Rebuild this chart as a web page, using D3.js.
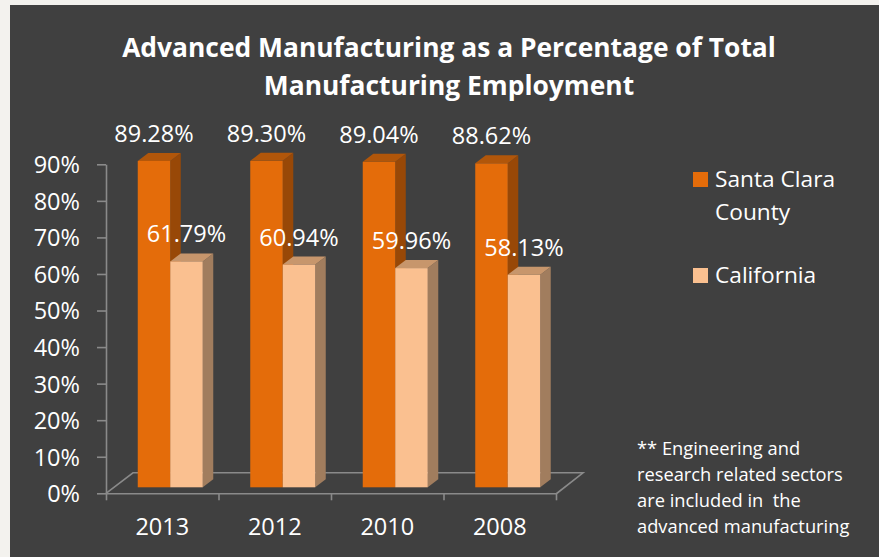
<!DOCTYPE html>
<html>
<head>
<meta charset="utf-8">
<script src="https://cdn.jsdelivr.net/npm/d3@7"></script>
<style>
  body { margin: 0; background: #f3f2ee; }
  text { font-family: "Open Sans", sans-serif; fill: #ffffff; }
</style>
</head>
<body>
<div id="chart"></div>
<script>
// datos
const years = ["2013", "2012", "2010", "2008"];
const seriesNames = ["Santa Clara County", "California"];
const santaClara = [0.8928, 0.8930, 0.8904, 0.8862];
const california = [0.6179, 0.6094, 0.5996, 0.5813];
const yTicks = [0, 0.1, 0.2, 0.3, 0.4, 0.5, 0.6, 0.7, 0.8, 0.9];
const titleLines = ["Advanced Manufacturing as a Percentage of Total", "Manufacturing Employment"];
const noteLines = ["** Engineering and", "research related sectors", "are included in  the", "advanced manufacturing"];

const W = 879, H = 557;
const FS = 23.5;
const colors = {
  front: ["#e46c0a", "#fac090"],
  side: ["#984807", "#a17d5e"],
  top: ["#b1560a", "#c7966c"]
};

const svg = d3.select("#chart").append("svg").attr("width", W).attr("height", H);

svg.append("rect").attr("width", W).attr("height", H).attr("fill", "#f3f2ee");
svg.append("rect").attr("x", 10).attr("y", 5).attr("width", W - 10).attr("height", H - 5).attr("fill", "#404040");

// escalas
const x = d3.scaleBand().domain(years).range([106, 556]);
const y = d3.scaleLinear().domain([0, 0.9]).range([493.3, 164.3]);
const inner = d3.scaleBand().domain(seriesNames).range([0, 65]);
const groupOff = (x.bandwidth() - 65) / 2;

// profundidad 3D
const floorD = { dx: 27, dy: -20.5 };
const barOff = { dx: 8, dy: -6 };
const barD = { dx: 10.5, dy: -8 };

// piso
const floor = svg.append("g").attr("stroke", "#8a8a8a").attr("stroke-width", 1.6).attr("fill", "none");
const x0 = x.range()[0], x1 = x.range()[1], y0 = y(0);
floor.append("path").attr("d", d3.line()([
  [x0, y0], [x0 + floorD.dx, y0 + floorD.dy], [x1 + floorD.dx, y0 + floorD.dy], [x1, y0 + 0.7]
]));

// eje Y
svg.append("g")
  .attr("transform", "translate(" + x0 + ",0)")
  .call(d3.axisLeft(y).tickValues(yTicks).tickFormat(d3.format(".0%")).tickSizeInner(9).tickSizeOuter(0).tickPadding(17))
  .call(g => g.selectAll("path, line").attr("stroke", "#8a8a8a").attr("stroke-width", 1.6))
  .call(g => g.selectAll("text").attr("font-size", FS).attr("font-family", "Open Sans").attr("fill", "#fff").attr("dy", "0.36em"));

// eje X
const xEdges = d3.scaleLinear().domain([0, years.length]).range([x0, x1]);
svg.append("g")
  .attr("transform", "translate(0," + y0 + ")")
  .call(d3.axisBottom(xEdges).tickValues(d3.range(years.length + 1)).tickFormat("").tickSizeInner(7).tickSizeOuter(0))
  .call(g => g.selectAll("path, line").attr("stroke", "#8a8a8a").attr("stroke-width", 1.6));
svg.append("g")
  .attr("transform", "translate(0," + y0 + ")")
  .call(d3.axisBottom(x).tickSize(0))
  .call(g => g.select(".domain").remove())
  .call(g => g.selectAll("text").attr("font-size", FS).attr("font-family", "Open Sans").attr("fill", "#fff").attr("y", 42).attr("dy", 0));

// barras
const rows = years.map((yr, i) => ({ year: yr, vals: [santaClara[i], california[i]] }));
const bars = svg.append("g");
rows.forEach(r => {
  r.vals.forEach((v, s) => {
    const bx0 = x(r.year) + groupOff + inner(seriesNames[s]) + barOff.dx;
    const bx1 = bx0 + inner.bandwidth();
    const by0 = y(0) + barOff.dy;
    const by1 = y(v) + barOff.dy;
    const g = bars.append("g");
    // lado
    g.append("path").attr("fill", colors.side[s])
      .attr("d", d3.line()([[bx1, by0], [bx1 + barD.dx, by0 + barD.dy], [bx1 + barD.dx, by1 + barD.dy], [bx1, by1]]) + "Z");
    // arriba
    g.append("path").attr("fill", colors.top[s])
      .attr("d", d3.line()([[bx0, by1], [bx0 + barD.dx, by1 + barD.dy], [bx1 + barD.dx, by1 + barD.dy], [bx1, by1]]) + "Z");
    // frente
    g.append("rect").attr("x", bx0).attr("y", by1).attr("width", bx1 - bx0).attr("height", by0 - by1)
      .attr("fill", colors.front[s]);
    // etiqueta
    svg.append("text")
      .attr("x", (bx0 + bx1) / 2)
      .attr("y", by1 + barD.dy - 11)
      .attr("text-anchor", "middle")
      .attr("font-size", FS)
      .text(d3.format(".2%")(v));
  });
});

// titulo
const title = svg.append("g").attr("font-weight", "bold");
titleLines.forEach((t, i) => {
  title.append("text")
    .attr("x", 449)
    .attr("y", 57 + i * 38)
    .attr("text-anchor", "middle")
    .attr("font-size", 26)
    .attr("font-weight", "bold")
    .text(t);
});
// ajustar ancho del titulo
const tw = title.select("text").node().getComputedTextLength();
title.selectAll("text").attr("font-size", 26 * 654 / tw);

// leyenda
const legend = svg.append("g").attr("font-size", 22.7);
legend.append("rect").attr("x", 693).attr("y", 172).attr("width", 15).attr("height", 15).attr("fill", colors.front[0]);
legend.append("text").attr("x", 715).attr("y", 187).text("Santa Clara");
legend.append("text").attr("x", 715).attr("y", 219.5).text("County");
legend.append("rect").attr("x", 693).attr("y", 268).attr("width", 15).attr("height", 15).attr("fill", colors.front[1]);
legend.append("text").attr("x", 715).attr("y", 283).text("California");

// nota
const note = svg.append("g").attr("font-size", 18.3);
noteLines.forEach((t, i) => {
  note.append("text")
    .attr("x", 637)
    .attr("y", 455 + i * 25.9)
    .attr("xml:space", "preserve")
    .style("white-space", "pre")
    .text(t);
});
</script>
</body>
</html>
